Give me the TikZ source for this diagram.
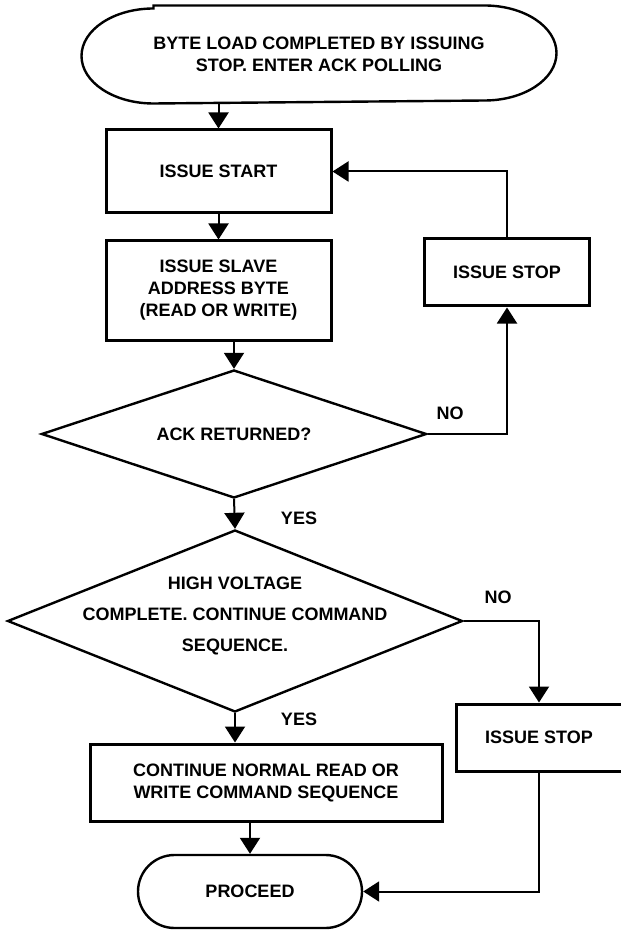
\documentclass[tikz,border=0pt]{standalone}
\usepackage{fontspec}
\setmainfont{Liberation Sans}
\usetikzlibrary{arrows.meta,shapes.geometric,shapes.misc}
\tikzset{
    process/.style={
    rectangle,draw=black,line width=1.5pt,align=center,inner sep=0pt,
    font=\fontsize{9}{11}\selectfont\bfseries
    },
    decision/.style={
    diamond,aspect=3,draw=black,line width=1.2pt,inner sep=0pt,
    font=\fontsize{9}{11}\selectfont\bfseries
    },
    terminal/.style={
    rounded rectangle,draw=black,line width=1.2pt,inner sep=0pt,
    font=\fontsize{9}{11}\selectfont\bfseries
    },
    answer/.style={
    inner sep=0pt,align=center,font=\fontsize{9}{11}\selectfont\bfseries
    },
    flow/.style={
    line width=1pt,-{Triangle[length=8pt,width=10pt]}
    },
}

\begin{document}
\begin{tikzpicture}[x=0.5pt,y=-0.5pt]
   \useasboundingbox (0,0) rectangle (620,930);
   % top terminal, ends drawn as half ellipses
   \node[process,draw=none,minimum width=236pt,minimum height=47.5pt] (load) at (319,54.5)
      {BYTE LOAD COMPLETED BY ISSUING\\STOP. ENTER ACK POLLING};
   \draw[line width=1.2pt] ([xshift=36pt]load.north west) -- ([xshift=-36pt]load.north east)
      arc[start angle=90,end angle=-90,x radius=36pt,y radius=23.75pt]
      -- ([xshift=36pt]load.south west)
      arc[start angle=270,end angle=90,x radius=36pt,y radius=23.75pt] -- cycle;

   \node[process,minimum width=112.5pt,minimum height=41.5pt] (start) at (218.5,171.5) {ISSUE START};
   \node[process,minimum width=112.5pt,minimum height=49.5pt] (addr) at (218.5,290.5)
      {ISSUE SLAVE\\ADDRESS BYTE\\(READ OR WRITE)};
   \node[process,minimum width=82.5pt,minimum height=33.5pt] (stopa) at (507,272.5) {ISSUE STOP};
   \node[decision,minimum width=192.5pt,minimum height=64pt] (ack) at (234,434) {ACK RETURNED?};
   \node[decision,minimum width=227.5pt,minimum height=91pt] (hv) at (235,621) {};
   \node[answer] (hvtext) at (235,616)
      {HIGH VOLTAGE\\[4.5pt]COMPLETE. CONTINUE COMMAND\\[4.5pt]SEQUENCE.};
   \node[process,minimum width=176pt,minimum height=38.5pt] (cont) at (266,782.5)
      {CONTINUE NORMAL READ OR\\WRITE COMMAND SEQUENCE};
   \node[process,minimum width=83pt,minimum height=33.5pt] (stopb) at (539,737.5) {ISSUE STOP};
   \node[terminal,minimum width=112pt,minimum height=36.5pt] (proceed) at (250,891.5) {PROCEED};

   % answers
   \node[answer] (noa) at (450,413) {NO};
   \node[answer] (yesa) at (299,518) {YES};
   \node[answer] (nob) at (498,597) {NO};
   \node[answer] (yesb) at (299,719) {YES};

   \draw[flow] (load.south -| start.north) -- (start.north);
   \draw[flow] (start.south) -- (addr.north);
   \draw[flow] (addr.south -| ack.north) -- (ack.north);
   \draw[flow] (ack.east) -| (stopa.south);
   \draw[flow] (stopa.north) |- (start.east);
   \draw[flow] (ack.south) -- (hv.north);
   \draw[flow] (hv.east) -| (stopb.north);
   \draw[flow] (hv.south) -- (hv.south |- cont.north);
   \draw[flow] (cont.south -| proceed.north) -- (proceed.north);
   \draw[flow] (stopb.south) |- (proceed.east);
\end{tikzpicture}
\end{document}
